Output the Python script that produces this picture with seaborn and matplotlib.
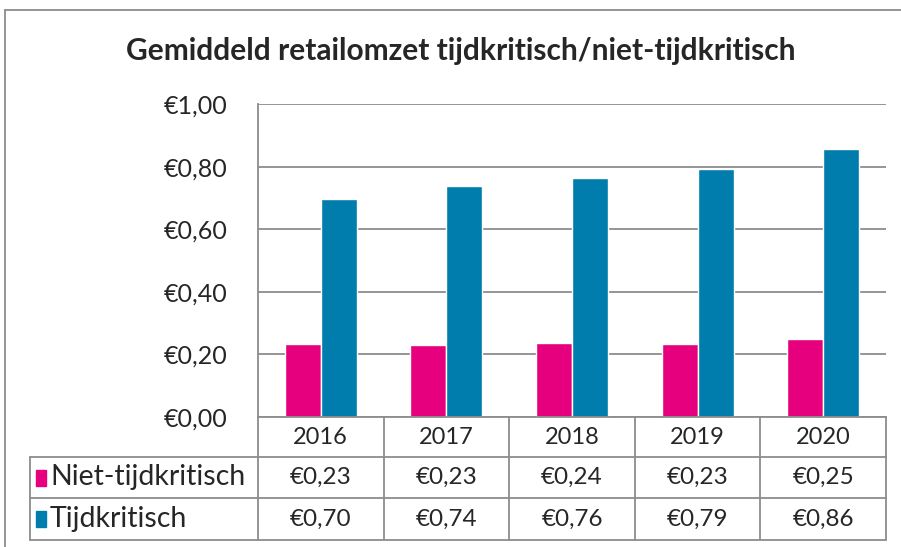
import numpy as np
import pandas as pd
import matplotlib
matplotlib.use("Agg")
import matplotlib.pyplot as plt
import matplotlib.transforms as mtransforms
import seaborn as sns

# data
years = ["2016", "2017", "2018", "2019", "2020"]
niet_tijdkritisch = [0.233, 0.230, 0.238, 0.234, 0.248]
tijdkritisch = [0.698, 0.737, 0.762, 0.792, 0.857]
series_names = ["Niet-tijdkritisch", "Tijdkritisch"]
colors = ["#E6007E", "#007DAC"]
y_ticks = [0.0, 0.2, 0.4, 0.6, 0.8, 1.0]

df = pd.DataFrame({
    "jaar": years * 2,
    "reeks": [series_names[0]] * len(years) + [series_names[1]] * len(years),
    "omzet": niet_tijdkritisch + tijdkritisch,
})

def euro(v):
    return "€" + f"{v:.2f}".replace(".", ",")

sns.set_style("white")
plt.rcParams["font.family"] = ["Lato", "DejaVu Sans"]

W, H = 901, 547
fig = plt.figure(figsize=(W / 100, H / 100), dpi=100)
# plot area in pixels: x 258..886, y 104..417
ax = fig.add_axes([258 / W, 1 - 417 / H, 628 / W, 313 / H])

sns.barplot(data=df, x="jaar", y="omzet", hue="reeks", palette=colors,
            width=0.574, saturation=1, ax=ax, legend=False)

ax.set_ylim(0, 1.0)
ax.set_xlim(-0.5, len(years) - 0.5)
ax.set_yticks(y_ticks)
ax.set_yticklabels([euro(v) for v in y_ticks], fontsize=18)
ax.set_xticks([])
ax.set_xlabel("")
ax.set_ylabel("")
ax.grid(axis="y", color="#8c8c8c", linewidth=1.3)
ax.set_axisbelow(True)
for s in ["top", "right"]:
    ax.spines[s].set_visible(False)
ax.spines["left"].set_color("#8c8c8c")
ax.spines["left"].set_linewidth(1.3)
ax.spines["bottom"].set_color("#8c8c8c")
ax.spines["bottom"].set_linewidth(1.3)
ax.tick_params(axis="y", length=6, width=1.3, color="#8c8c8c", pad=16)

# data table under the chart
line_kw = dict(color="#8c8c8c", linewidth=1.3, clip_on=False)
trans = mtransforms.blended_transform_factory(ax.transData, ax.transAxes)
px = 1 / 313  # one pixel in axes y units
row_edges = [0, -40 * px, -81 * px, -123 * px]
label_left = (30 - 258) / 628

# vertical column lines
for i in range(len(years) + 1):
    ax.plot([i - 0.5, i - 0.5], [row_edges[0], row_edges[-1]], transform=trans, **line_kw)
# horizontal row lines
for yv in row_edges[1:]:
    ax.plot([label_left, 1], [yv, yv], transform=ax.transAxes, **line_kw)
ax.plot([label_left, label_left], [row_edges[1], row_edges[-1]], transform=ax.transAxes, **line_kw)

for i, yr in enumerate(years):
    ax.text(i, (row_edges[0] + row_edges[1]) / 2, yr, transform=trans,
            ha="center", va="center", fontsize=17)
    ax.text(i, (row_edges[1] + row_edges[2]) / 2, euro(niet_tijdkritisch[i]), transform=trans,
            ha="center", va="center", fontsize=17.5)
    ax.text(i, (row_edges[2] + row_edges[3]) / 2, euro(tijdkritisch[i]), transform=trans,
            ha="center", va="center", fontsize=17.5)

for r, (name, col) in enumerate(zip(series_names, colors)):
    yc = (row_edges[r + 1] + row_edges[r + 2]) / 2
    x0 = (36 - 258) / 628
    ax.add_patch(plt.Rectangle((x0, yc - 8 * px), 10 / 628, 16 * px, transform=ax.transAxes,
                               color=col, clip_on=False))
    ax.text((50 - 258) / 628, yc, name, transform=ax.transAxes,
            ha="left", va="center", fontsize=20.5)

# title
fig.text(461 / W, 1 - 51 / H, "Gemiddeld retailomzet tijdkritisch/niet-tijdkritisch",
         ha="center", va="center", fontsize=21.5, fontweight="bold")

# outer chart border
fig.add_artist(plt.Line2D([5 / W, 1], [1 - 10 / H, 1 - 10 / H], transform=fig.transFigure,
                          color="#8c8c8c", linewidth=1.3))
fig.add_artist(plt.Line2D([5 / W, 5 / W], [0, 1 - 10 / H], transform=fig.transFigure,
                          color="#8c8c8c", linewidth=1.3))

fig.savefig("out.png", dpi=100)
